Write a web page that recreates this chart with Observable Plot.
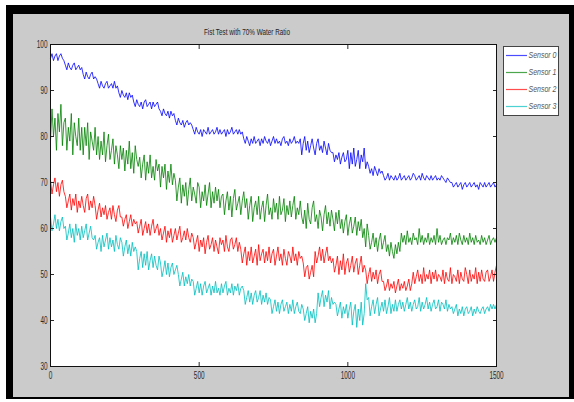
<!DOCTYPE html>
<html>
<head>
<meta charset="utf-8">
<script src="https://cdn.jsdelivr.net/npm/d3@7"></script>
<script src="https://cdn.jsdelivr.net/npm/@observablehq/plot@0.6"></script>
<style>
  html, body { margin: 0; padding: 0; background: #fff; }
  #wrap { position: relative; width: 574px; height: 402px; overflow: hidden; font-family: "Liberation Sans", Arial, sans-serif; }
  #outer { position: absolute; left: 6px; top: 5px; width: 568px; height: 394px; background: #000; }
  #inner { position: absolute; left: 13px; top: 14px; width: 556px; height: 383px; background: #cbcbcb; }
  #chart { position: absolute; left: 0; top: 0; }
  #overlay { position: absolute; left: 0; top: 0; }
</style>
</head>
<body>
<div id="wrap">
  <div id="outer"></div>
  <div id="inner"></div>
  <div id="chart"></div>
  <svg id="overlay" width="574" height="402"></svg>
</div>
<script>
const titleText = "Fist Test with 70% Water Ratio";
const seriesNames = ["Sensor 0", "Sensor 1", "Sensor 2", "Sensor 3"];
const seriesColors = ["#0000ff", "#008000", "#ff0000", "#00bfbf"];
const xTicks = [0, 500, 1000, 1500];
const yTicks = [30, 40, 50, 60, 70, 80, 90, 100];
const sampleStep = 5; // readings every 5 samples, from 0 to 1500

const sensor0 = [
  97,98,96.5,97.5,98,96.5,97.5,98,97,96.5,
  95.5,94.5,96,95,94.5,95.5,96,94.5,95,95.5,94.5,95,
  93.5,92.5,94,93,92.5,93.5,94,92.5,93,92.5,
  91.5,90.5,92,91,90.5,91.5,92,90.5,91,91.5,90.5,92,90.5,91,
  89.5,88.5,90,89,88.5,89.5,88,89.5,88.5,89,
  87.5,86.5,88,87,86.5,87.5,86,87.5,88,86.5,87,87.5,86,87.5,86.5,87,87.5,86,
  85.5,84.5,86,85,84.5,85.5,84,85.5,84.5,85,
  83.5,82.5,84,83,82.5,83.5,82,83,83.5,82.5,83,82.5,
  81.5,80.5,82,81,80.5,81.5,80,81.5,81,80.5,82,80.5,81,81.5,80.5,81,82,80.5,81.5,80.5,
  81,81.5,80,81.5,80.5,81,82,80.5,81,81.5,80.5,81.5,80.5,81,
  79.5,78.5,80,79,78,79.5,78.5,80,78.5,79,79.5,78,79.5,78.5,80,79,78.5,79.5,78,79,
  80,78.5,79.5,78.5,79,78,79.5,80,78.5,79,78,79.5,78.5,79,80,78.5,79,78.5,
  79.5,76,78.5,80,77,79,76.5,78,79.5,77.5,76,78.5,79.5,77,78,76.5,79,77.5,76,78.5,77,76.5,
  76.5,74.5,76,75,76.5,74,75.5,76.5,74.5,75,
  77,73,76.5,74,77.5,73.5,75,77,73,76,74.5,77.5,73,74.5,
  73.5,72,73,71.5,73.5,72.5,71.5,73,72,72.5,
  71.5,70.5,71,72,70.5,71.5,71,70.5,71.5,70.5,71,72,70.5,71,71.5,70.5,71,71.5,70.5,71,
  72,71.5,70.5,71,71.5,70.5,72,71,70.5,71.5,71,70.5,71.5,70.5,71,71.5,70.5,71,70.5,71.5,
  71,70.5,70,71,70.5,70,
  70,69,69.5,70,69,69.5,70,68.5,69.5,70,69,69.5,70,69,69.5,70,69,69.5,68.5,70,
  69.5,69,70,69,69.5,70,69,69.5,70,69,69.5
];
const sensor1 = [
  79,86,80,84,77,85,81,87,78,83,
  84,77,82,79,85,76,83,80,78,84,77,82,
  76,82,78,83,75,81,79,77,82,76,
  80,75,79,76,81,74.5,78,80.5,75,77,79.5,74,78,76,
  73,78,75,77.5,72.5,77,74,79,73,76.5,72,78,75,73.5,
  75.5,71,74,76,70.5,74.5,72,76,71,73.5,70.5,75,72.5,74,
  69,73.5,71,74,68.5,72.5,70,74,69.5,72,
  70.5,66,69,71,65.5,69.5,67,70,65,68.5,71,66,69,67.5,65.5,70,
  69,64.5,68,66,69.5,65,67.5,70,64.5,68,65.5,69,66,68.5,64.5,67,
  67.5,63,66,68,64,67,62.5,66.5,68.5,64,65.5,67,63,66,68,64.5,
  66.5,62,65,67,61.5,64.5,66,63,67,62,64.5,66,61.5,65,67.5,63,64.5,62,66.5,63.5,
  65.5,62,67,63,64,66.5,61.5,65,63,66,62.5,65,67,62,64.5,63,66,62.5,
  61,64,60,65.5,62,61,64.5,66,61.5,63,60,64,62.5,59.5,63,65,61,63.5,60.5,64,
  62,59.5,63.5,61,64,60,
  62,59,61.5,63,58.5,61,62.5,59,60.5,62.5,58.5,61.5,59.5,62,58,60,
  56,61,
  58.5,55.5,57,59,56,58,55,57.5,59,55.5,57,58.5,55,56.5,
  54,57,55,53.5,56.5,54.5,57,55,
  59,57,58.5,56.5,59.5,57,58,56.5,59,57.5,58,56.5,60,57,58.5,56.5,58,57,59,56.5,
  58,57,58.5,56.5,60,57,58.5,56.5,57.5,58,56.5,58,57.5,59,56.5,58,57,58.5,56.5,59,
  57.5,56.5,58.5,57,58,56.5,59,57,58,56.5,58.5,57,57.5,56.5,58.5,57,58,56.5,57.5,58.5,
  56.5,57.5,58,57,58
];
const sensor2 = [
  70.5,67.5,69.5,71,68,70,67,69.5,70.5,68,
  67,64.5,66,67.5,64,66.5,65,67.5,63.5,66,64.5,67,65,63.5,66.5,67.5,64,66,64.5,67,
  65,62,64,65.5,62.5,64.5,63,65,62,63.5,64.5,62,65,63,61.5,64,65,62.5,
  62.5,60.5,62,63,60,61.5,63,60.5,62,61,
  61.5,59,60.5,62,58.5,60,61.5,59,61,58.5,60.5,62,59,60,61,58.5,
  60,57.5,59,60.5,57,59.5,58,60,57,58.5,60,57.5,59,60.5,57,58,59.5,57.5,60,58,57,59,
  58,55.5,57,58.5,55,57.5,56,58,54.5,57,58.5,55.5,56.5,58,55,57.5,56,54.5,58,56.5,
  57.5,55,58.5,56,55,57.5,58,55.5,56.5,58,55,57,
  55.5,52.5,54.5,56,52,55,53,56,52.5,54,55.5,52,56.5,53,54.5,55.5,52.5,55,53,56,
  52.5,54.5,55.5,52,54,56,53,54.5,52,55.5,53.5,52,55,54,52.5,56,53,54.5,52,55,
  53.5,54,
  52.5,49.5,51.5,52,49,50.5,52,49.5,
  55,52.5,54,56,53,55.5,52.5,54.5,56,53,54,52.5,
  53.5,50.5,52,54,50,53,51,54.5,50,52.5,53.5,50.5,52,54,50.5,52.5,53.5,50,52,54,50.5,52,
  51,48,50,51.5,48.5,50.5,49,51,48,50,51,48.5,
  48.5,46.5,47.5,49,46.5,48,47,48.5,46,47.5,49,46.5,48,47,48.5,46.5,47.5,49,46.5,48,
  50.5,48,49.5,51,48.5,50,48,51.5,48.5,50,49,51,48,50.5,49,51,48.5,50,49.5,48.5,
  51,48,50.5,49,48.5,51.5,48,50,49.5,48.5,51,48,50.5,49,48.5,51.5,50,48,51,48.5,
  50,49,51.5,48,50.5,48.5,51,49,48.5,50.5,51,48.5,49.5,51,48.5,50.5,52
];
const sensor3 = [
  62.5,59.5,61,63,60,62,59.5,61.5,62.5,60,
  60.5,57.5,59,61,58,60,57,61,58.5,60,57.5,60.5,58,59.5,61,57.5,59,60.5,58,57.5,
  58.5,55.5,57,58,55,58.5,56,57.5,59,55.5,58,56,57.5,55,58.5,56.5,55.5,58,
  57,54,56,57.5,54.5,56.5,54,57,55,56,
  55,51,53.5,55,51.5,54.5,52,55,51,53,54.5,51.5,54,52,51,54,
  52.5,49.5,51,53,50,52.5,49.5,51.5,52.5,50,51,52,
  50,47.5,49,50.5,47.5,49.5,48,50,47.5,49,
  48.5,45.5,47,48.5,46,48,45.5,47.5,48.5,46,47,48,45.5,47.5,46,48.5,46,47,45.5,48,
  46,47.5,48.5,45.5,47,46,48,45.5,47.5,46.5,48,45.5,47,47.5,
  46.5,43.5,45,46.5,44,46,43.5,45.5,46.5,44,45,46.5,43.5,45.5,44,46,43.5,45,
  44.5,41.5,43,44.5,42,44,41.5,43.5,44.5,42,43,44,41.5,43.5,42,44.5,41.5,43,44,42,41.5,43.5,
  42.5,40,41.5,43,39.5,42,40.5,42.5,39.5,41.5,
  46,43,45,46.5,43,45.5,44,46.5,42.5,45,43.5,44,
  43.5,41,42.5,44,40.5,43,41.5,43.5,40.5,42.5,
  44,39,42,43.5,38.5,42.5,40,44,39,41.5,
  48,44.5,
  45,41,43,44.5,41.5,43.5,45,41,42.5,44,42,44.5,41.5,43,45,41.5,43.5,42,
  44.5,42,43.5,44.5,42.5,44,42,43.5,45,42.5,44,42,43.5,44.5,42.5,43,45,42,44,42.5,
  43.5,45,42.5,44,42,43.5,44.5,42.5,43,44.5,42,44,43.5,42.5,44.5,42,43.5,42.5,
  43,41.5,42.5,43.5,41,42.5,41.5,43,41,42.5,43,41.5,42,43,41,42.5,41.5,43,42,41.5,
  42.5,43,41.5,42.5,43,42,43.5,42.5,43.5,42.5,43.5
];
const seriesValues = [sensor0, sensor1, sensor2, sensor3];

const rows = [];
seriesValues.forEach((vals, s) => {
  vals.forEach((v, i) => rows.push({sensor: seriesNames[s], sample: i * sampleStep, value: v}));
});

const fontFamily = '"Liberation Sans", Arial, sans-serif';
const fmt = d => String(d);

const chart = Plot.plot({
  width: 574,
  height: 402,
  marginLeft: 50,
  marginRight: 78,
  marginTop: 44,
  marginBottom: 36,
  style: {background: "transparent", fontFamily, fontSize: "10px", color: "#2a2a2a", overflow: "visible"},
  x: {domain: [0, 1500], label: null},
  y: {domain: [30, 100], label: null},
  color: {domain: seriesNames, range: seriesColors},
  marks: [
    Plot.frame({fill: "white"}),
    Plot.lineY(rows, {x: "sample", y: "value", z: "sensor", stroke: "sensor", strokeWidth: 0.8}),
    Plot.axisX(xTicks, {anchor: "bottom", tickSize: 0, tickPadding: 5, tickFormat: fmt, label: null}),
    Plot.axisX(xTicks, {anchor: "bottom", tickSize: 4, dy: -4, text: null, label: null}),
    Plot.axisX(xTicks, {anchor: "top", tickSize: 4, dy: 4, text: null, label: null}),
    Plot.axisY(yTicks, {anchor: "left", tickSize: 0, tickPadding: 3, tickFormat: fmt, label: null}),
    Plot.axisY(yTicks, {anchor: "left", tickSize: 4, dx: 4, text: null, label: null}),
    Plot.axisY(yTicks, {anchor: "right", tickSize: 4, dx: -4, text: null, label: null}),
    Plot.frame({stroke: "#111", strokeWidth: 1})
  ]
});
document.getElementById("chart").appendChild(chart);

// condense tick labels (the reference uses a narrow font)
d3.select(chart).selectAll("text").each(function() {
  const len = this.getComputedTextLength();
  if (len > 0) {
    this.setAttribute("textLength", (len * 0.64).toFixed(1));
    this.setAttribute("lengthAdjust", "spacingAndGlyphs");
  }
});

// title and legend
const ov = d3.select("#overlay").style("font-family", fontFamily);
ov.append("text")
  .attr("x", 247).attr("y", 35)
  .attr("text-anchor", "middle")
  .attr("font-size", 9.5).attr("fill", "#222")
  .attr("textLength", 86).attr("lengthAdjust", "spacingAndGlyphs")
  .text(titleText);

const lg = ov.append("g").attr("transform", "translate(503,46)");
lg.append("rect").attr("x", 0.5).attr("y", 0.5).attr("width", 55).attr("height", 69)
  .attr("fill", "#fff").attr("stroke", "#444");
const entryY = [9, 26, 43, 60];
seriesNames.forEach((name, i) => {
  lg.append("line").attr("x1", 3).attr("x2", 24).attr("y1", entryY[i] + 0.5).attr("y2", entryY[i] + 0.5)
    .attr("stroke", seriesColors[i]).attr("stroke-width", 1.2).attr("stroke-opacity", 0.7);
  lg.append("text").attr("x", 25.5).attr("y", entryY[i] + 3)
    .attr("font-size", 9).attr("font-style", "italic").attr("fill", "#555")
    .attr("textLength", 28).attr("lengthAdjust", "spacingAndGlyphs")
    .text(name);
});
</script>
</body>
</html>
